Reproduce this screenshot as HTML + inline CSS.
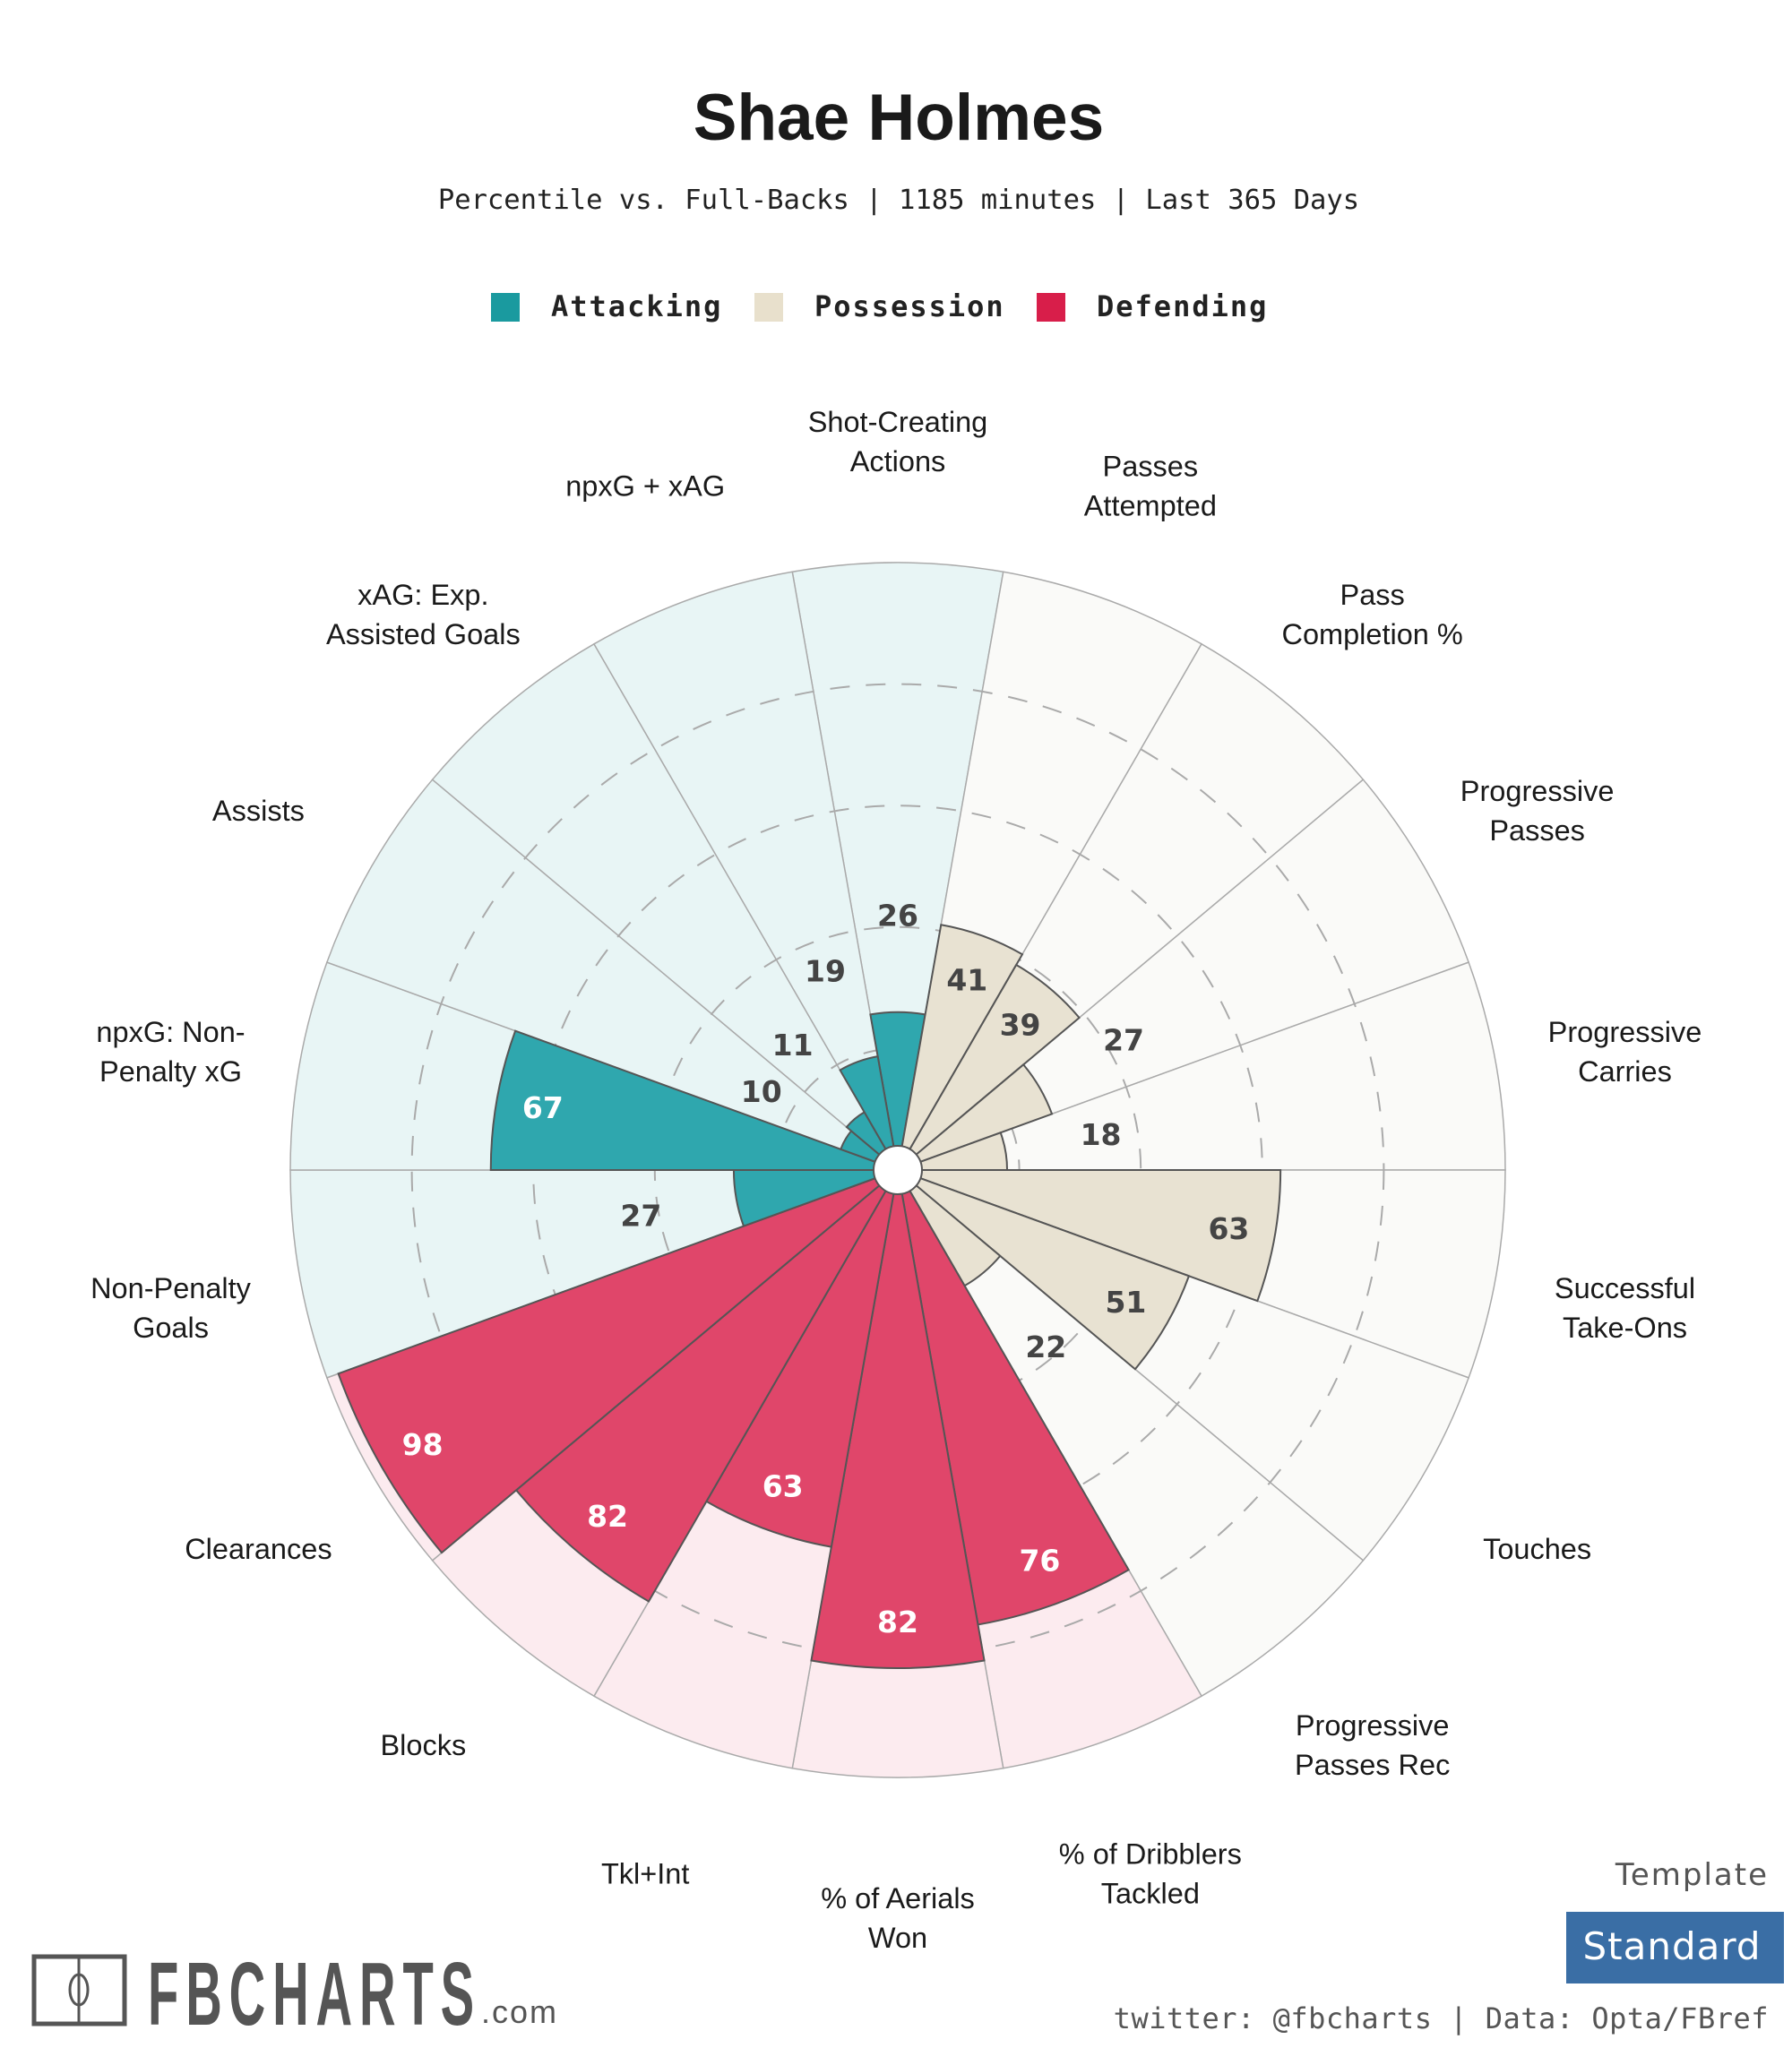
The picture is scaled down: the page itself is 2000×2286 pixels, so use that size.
<!DOCTYPE html>
<html><head><meta charset="utf-8">
<style>
html,body{margin:0;padding:0;background:#fff;}
svg{display:block;}
</style></head>
<body>
<svg id="chart" width="2000" height="2286" viewBox="0 0 2000 2286" xmlns="http://www.w3.org/2000/svg">
<text x="1003" y="156" text-anchor="middle" font-family="Liberation Sans, sans-serif" font-weight="bold" font-size="73" fill="#1a1a1a">Shae Holmes</text>
<text x="1003" y="233" text-anchor="middle" font-family="DejaVu Sans Mono, Liberation Mono, monospace" font-size="30.5" fill="#222">Percentile vs. Full-Backs | 1185 minutes | Last 365 Days</text>
<g font-family="DejaVu Sans Mono, Liberation Mono, monospace" font-weight="bold" font-size="32" fill="#222" letter-spacing="2">
  <rect x="548" y="327" width="32" height="32" fill="#1a9a9f"/>
  <text x="615" y="353">Attacking</text>
  <rect x="842" y="327" width="32" height="32" fill="#e8e0cc"/>
  <text x="909" y="353">Possession</text>
  <rect x="1157" y="327" width="32" height="32" fill="#d81e4a"/>
  <text x="1224" y="353">Defending</text>
</g>
<g id="pizza"></g>
<g>
  <rect x="38" y="2184" width="101" height="75" fill="none" stroke="#555" stroke-width="5"/>
  <line x1="88" y1="2184" x2="88" y2="2259" stroke="#555" stroke-width="3"/>
  <ellipse cx="88" cy="2221" rx="10" ry="17" fill="none" stroke="#555" stroke-width="3"/>
  <text x="165" y="2260" font-family="Liberation Sans Narrow, Liberation Sans, sans-serif" font-weight="bold" font-size="100" fill="#555" letter-spacing="14" textLength="372" lengthAdjust="spacingAndGlyphs">FBCHARTS</text>
  <text x="537" y="2258" font-family="Liberation Sans, sans-serif" font-size="36" fill="#555" letter-spacing="2">.com</text>
</g>
<text x="1974" y="2104" text-anchor="end" font-family="DejaVu Sans, sans-serif" font-size="34" fill="#555" letter-spacing="2">Template</text>
<rect x="1748" y="2134" width="243" height="80" fill="#3a6ea5"/>
<text x="1866" y="2187" text-anchor="middle" font-family="DejaVu Sans, sans-serif" font-size="42" fill="#fff" letter-spacing="1">Standard</text>
<text x="1974" y="2264" text-anchor="end" font-family="DejaVu Sans Mono, Liberation Mono, monospace" font-size="32" fill="#555" letter-spacing="0.5">twitter: @fbcharts | Data: Opta/FBref</text>
</svg>
<script>
const categories = ["Shot-Creating|Actions","Passes|Attempted","Pass|Completion %","Progressive|Passes","Progressive|Carries","Successful|Take-Ons","Touches","Progressive|Passes Rec","% of Dribblers|Tackled","% of Aerials|Won","Tkl+Int","Blocks","Clearances","Non-Penalty|Goals","npxG: Non-|Penalty xG","Assists","xAG: Exp.|Assisted Goals","npxG + xAG"];
const values = [26,41,39,27,18,63,51,22,76,82,63,82,98,27,67,10,11,19];
const groups = ["att","pos","pos","pos","pos","pos","pos","pos","def","def","def","def","def","att","att","att","att","att"];
const gridTicks = [20,40,60,80];

const CX=1002, CY=1306, R=678, HOLE=27, LABEL_R=824, LABEL_DY=11;
const bg={att:"#e8f5f5",pos:"#fafaf8",def:"#fcebef"};
const bar={att:"#2fa7ae",pos:"#e8e2d2",def:"#e0466a"};
const txtCol={att:"#fff",pos:"#444",def:"#fff"};
function rScale(v){return v/100*R;}
function pt(r,deg){const a=deg*Math.PI/180;return [CX+r*Math.sin(a),CY-r*Math.cos(a)];}
function sector(r,a0,a1){const p0=pt(r,a0),p1=pt(r,a1);return `M${CX},${CY}L${p0[0]},${p0[1]}A${r},${r} 0 0 1 ${p1[0]},${p1[1]}Z`;}
const NS="http://www.w3.org/2000/svg";
const g=document.getElementById('pizza');
function mk(tag,attrs,parent){const e=document.createElementNS(NS,tag);for(const k in attrs)e.setAttribute(k,attrs[k]);(parent||g).appendChild(e);return e;}
const n=categories.length, step=360/n;
categories.forEach((c,i)=>{
  const e=mk('path',{d:sector(R,i*step-step/2,i*step+step/2),fill:bg[groups[i]],stroke:"#aaa","stroke-width":1.5});
  
  
});
gridTicks.forEach(t=>{
  const e=mk('circle',{cx:CX,cy:CY,r:rScale(t),fill:"none",stroke:"#aaa","stroke-width":2,"stroke-dasharray":"22 18"});
  
  
});
values.forEach((v,i)=>{
  const e=mk('path',{d:sector(rScale(v),i*step-step/2,i*step+step/2),fill:bar[groups[i]],stroke:"#555","stroke-width":2});
  
  
});
const hole=mk('circle',{cx:CX,cy:CY,r:HOLE,fill:"#fff",stroke:"#555","stroke-width":2});


values.forEach((v,i)=>{
  const inside=v>=30;
  const r=inside?rScale(v)-52:rScale(v)+108;
  const p=pt(r,i*step);
  const t=mk('text',{x:p[0],y:p[1]+12,"text-anchor":"middle","font-family":"DejaVu Sans, Liberation Sans, sans-serif","font-weight":"bold","font-size":33,fill:inside?txtCol[groups[i]]:"#444"});
  t.textContent=v;
  
  
});
categories.forEach((c,i)=>{
  const p=pt(LABEL_R,i*step);
  const lines=c.split('|');
  const lh=44;
  const t=mk('text',{"text-anchor":"middle","font-family":"Liberation Sans, sans-serif","font-size":32.5,fill:"#1a1a1a"});
  
  
  lines.forEach((l,j)=>{
    const s=mk('tspan',{x:p[0],y:p[1]+11+LABEL_DY+(j-(lines.length-1)/2)*lh},t);
    s.textContent=l;
  });
});
</script>
</body></html>
